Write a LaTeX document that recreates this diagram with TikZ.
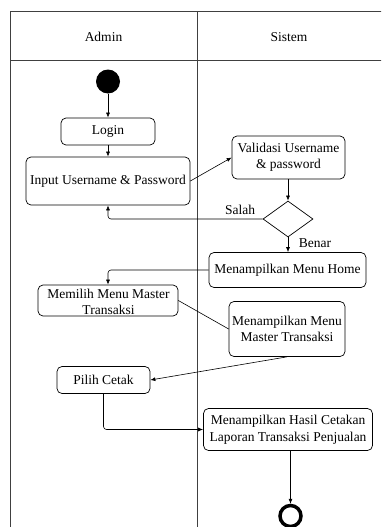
\documentclass[tikz,border=0pt]{standalone}
\usepackage{fontspec}
\setmainfont{Liberation Serif}
\newfontfamily\diagramfont{Liberation Serif}
\usetikzlibrary{shapes.geometric,arrows.meta}
\begin{document}
\begin{tikzpicture}[x=1pt,y=-1pt,
  font=\diagramfont\fontsize{13.5}{16.5}\selectfont,
  lane/.style={line width=1pt,draw=black!75},
  act/.style={draw,rounded corners=5pt,line width=0.7pt,inner sep=1pt,align=center},
  flow/.style={line width=0.6pt,-{Latex[length=5pt,width=4pt]}},
  plain/.style={line width=0.6pt},
  decision/.style={draw,diamond,line width=0.7pt,inner sep=0pt,minimum width=50pt,minimum height=36pt}
]
\useasboundingbox (0,0) rectangle (381,527);
\begin{scope}
\clip (0,0) rectangle (381,527);
% swimlane frame
\draw[lane] (10,540) -- (10,12) -- (390,12);
\draw[lane] (10,61) -- (390,61);
\draw[lane] (197,12) -- (197,540);
\end{scope}
\node (hadmin) at (103.5,37) {Admin};
\node (hsistem) at (289,37) {Sistem};

% nodes
\node[circle,fill=black,minimum size=24pt,inner sep=0pt] (start) at (108,81.5) {};
\node[act,minimum width=94pt,minimum height=27pt] (login) at (108,131.5) {Login};
\node[act,minimum width=164pt,minimum height=48pt] (input) at (108,181) {Input Username \& Password};
\node[act,minimum width=113pt,minimum height=43pt] (valid) at (288.5,157.5) {Validasi Username\\\& password};
\node[decision] (dec) at (288,219) {};
\node[act,minimum width=157pt,minimum height=35pt] (home) at (287.5,270) {Menampilkan Menu Home};
\node[act,minimum width=140pt,minimum height=31pt] (pilihmenu) at (108,300.5) {};
\node[align=center,inner sep=0pt,font=\diagramfont\fontsize{13.5}{15.5}\selectfont] (pilihmenutext) at (108.5,302) {Memilih Menu Master\\Transaksi};
\node[act,minimum width=116pt,minimum height=55pt] (master) at (287,329) {Menampilkan Menu\\Master Transaksi};
\node[act,minimum width=93pt,minimum height=27pt] (cetak) at (103.5,380) {Pilih Cetak};
\node[act,minimum width=169pt,minimum height=42pt] (hasil) at (288,429.5) {Menampilkan Hasil Cetakan\\Laporan Transaksi Penjualan};
\node[circle,draw,line width=3.5pt,minimum size=21pt,inner sep=0pt] (end) at (290.5,516) {};

% connectors
\draw[flow] (start) -- (login);
\draw[flow] (login) -- (input);
\draw[flow] (input.east) -- (valid.west);
\draw[flow] (valid.south -| dec.north) -- (dec.north);
\draw[flow,rounded corners=3pt] (dec.west) -- (input.south |- dec.west) -- (input.south);
\node (salah) at (240,210) {Salah};
\draw[flow] (dec.south) -- (home.north -| dec.south);
\node (benar) at (315,243) {Benar};
\draw[flow,rounded corners=3pt] (home.west) -- (pilihmenu.north |- home.west) -- (pilihmenu.north);
\draw[plain] (pilihmenu.east) -- (master.west);
\draw[flow] (master.south) -- (cetak.east);
\draw[flow,rounded corners=3pt] (cetak.south) -- (cetak.south |- hasil.west) -- (hasil.west);
\draw[flow] (end.north |- hasil.south) -- (end.north);
\end{tikzpicture}
\end{document}
